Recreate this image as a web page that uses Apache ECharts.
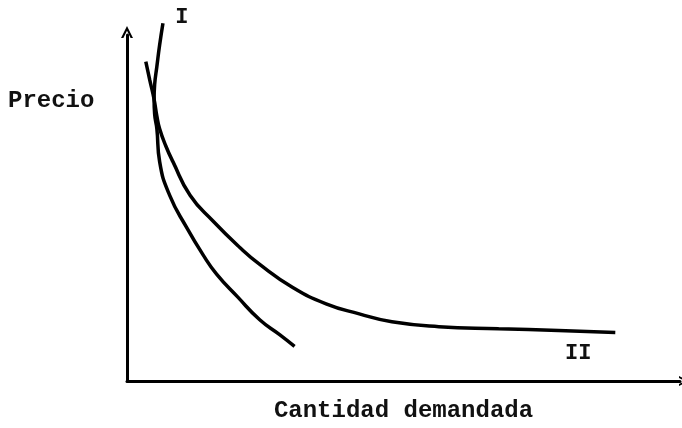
<!DOCTYPE html>
<html>
<head>
<meta charset="utf-8">
<script src="https://cdn.jsdelivr.net/npm/echarts@6/dist/echarts.min.js"></script>
<style>
  html, body { margin: 0; padding: 0; background: #fff; }
  #main { width: 682px; height: 428px; }
</style>
</head>
<body>
<div id="main"></div>
<script>
// curva I (mas inclinada) y curva II
var curveI = [
  [6.5, 103.4], [5.9, 97.1], [5.4, 90.9], [5.0, 85.7], [4.9, 81.4],
  [5.0, 77.1], [5.4, 72.9], [5.9, 63.4], [7.7, 53.7], [10.8, 44.3],
  [13.7, 36.6], [16.2, 30.9], [20.0, 24.3], [24.0, 17.7], [27.6, 13.4],
  [30.3, 10.0]
];
var curveII = [
  [3.4, 92.3], [4.1, 87.1], [4.9, 81.4], [5.4, 76.6], [5.9, 72.9],
  [7.0, 68.0], [8.3, 63.4], [11.4, 53.7], [15.5, 46.3], [20.4, 38.6],
  [24.0, 33.7], [29.9, 27.1], [36.0, 22.3], [42.0, 19.4], [47.9, 17.1],
  [56.4, 15.7], [67.2, 15.1], [78.0, 14.6], [88.3, 14.0]
];
var curveNames = ['I', 'II'];
var yName = 'Precio';
var xName = 'Cantidad demandada';

var font = '"Liberation Mono", "DejaVu Sans Mono", monospace';
var chevron = 'path://M0,10 L5,0 L10,10 L8,10 L5,4 L2,10 Z';

var myChart = echarts.init(document.getElementById('main'));

// nombre de la curva junto a un punto de ella
function tag(p, text, off) {
  return {
    silent: true,
    data: [{
      coord: p, symbol: 'circle', symbolSize: 1,
      itemStyle: { color: 'rgba(0,0,0,0)' },
      label: { show: true, formatter: text, position: 'inside', offset: off,
        fontFamily: font, fontSize: 22, fontWeight: 'bold', color: '#111' }
    }]
  };
}

var option = {
  animation: false,
  backgroundColor: '#fff',
  grid: { left: 127, right: 2, top: 35, bottom: 43 },
  xAxis: {
    type: 'value', min: 0, max: 100,
    name: xName, nameLocation: 'middle', nameGap: 18,
    nameTextStyle: { fontFamily: font, fontSize: 24, fontWeight: 'bold', color: '#111' },
    axisLine: { show: true, lineStyle: { color: '#000', width: 3 },
      symbol: ['none', chevron], symbolSize: [16, 10], symbolOffset: [0, 4] },
    axisTick: { show: false }, axisLabel: { show: false }, splitLine: { show: false }
  },
  yAxis: {
    type: 'value', min: 0, max: 100,
    axisLine: { show: true, lineStyle: { color: '#000', width: 3 },
      symbol: ['none', chevron], symbolSize: [22, 12], symbolOffset: [0, 3] },
    axisTick: { show: false }, axisLabel: { show: false }, splitLine: { show: false }
  },
  graphic: [{
    type: 'text', left: 8, top: 89,
    style: { text: yName, font: 'bold 24px ' + font, fill: '#111' }
  }],
  series: [
    { type: 'line', name: curveNames[0], data: curveI, smooth: 0.5, clip: false,
      showSymbol: false, symbol: 'none', lineStyle: { color: '#000', width: 3.5 },
      markPoint: tag(curveI[2], curveNames[0], [25, -49]) },
    { type: 'line', name: curveNames[1], data: curveII, smooth: 0.5, clip: false,
      showSymbol: false, symbol: 'none', lineStyle: { color: '#000', width: 3.5 },
      markPoint: tag(curveII[curveII.length - 1], curveNames[1], [-37, 21]) }
  ]
};

myChart.setOption(option);
</script>
</body>
</html>
